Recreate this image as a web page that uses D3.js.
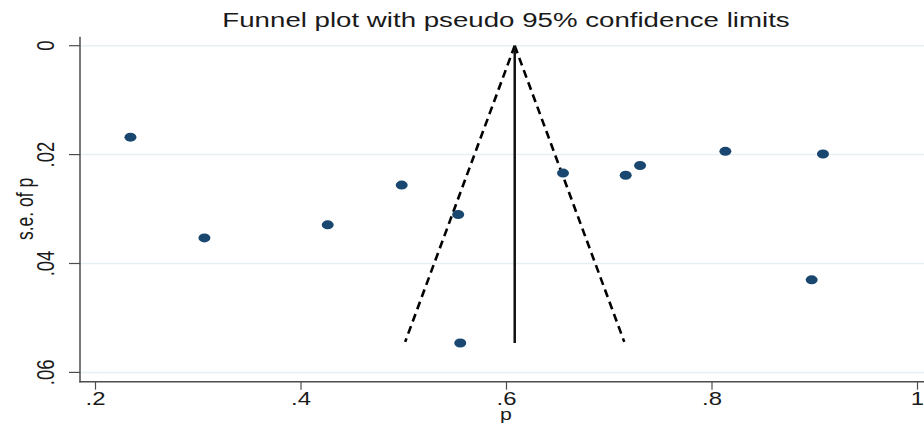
<!DOCTYPE html>
<html>
<head>
<meta charset="utf-8">
<script src="https://cdn.jsdelivr.net/npm/d3@7"></script>
<style>
  html, body { margin: 0; padding: 0; background: #fff; }
  svg { display: block; font-family: "Liberation Sans", Arial, sans-serif; }
</style>
</head>
<body>
<svg id="chart" width="924" height="423"></svg>
<script>
// ---- data ----
const pValues  = [0.234, 0.306, 0.426, 0.498, 0.553, 0.555, 0.655, 0.716, 0.730, 0.813, 0.908, 0.897];
const seValues = [0.0168, 0.0353, 0.0329, 0.0256, 0.0310, 0.0546, 0.0234, 0.0238, 0.0220, 0.0194, 0.0199, 0.0430];
const pooledP = 0.608;
const funnelMaxSe = 0.0544;
const xTicks = [0.2, 0.4, 0.6, 0.8, 1];
const xTickLabels = [".2", ".4", ".6", ".8", "1"];
const yTicks = [0, 0.02, 0.04, 0.06];
const yTickLabels = ["0", ".02", ".04", ".06"];
const titleText = "Funnel plot with pseudo 95% confidence limits";
const xTitle = "p";
const yTitle = "s.e. of p";

// ---- layout ----
const W = 924, H = 423;
const plotLeft = 80, plotRight = 924, plotTop = 36.7, plotBottom = 381.7;
const stretch = 1.33;
const navy = "#1a476f";

const svg = d3.select("#chart");

const x = d3.scaleLinear().domain([0.2, 1]).range([95.5, 917.5]);
const y = d3.scaleLinear().domain([0, 0.06]).range([45.7, 372.4]);

// gridlines
svg.append("g").selectAll("line").data(yTicks).join("line")
  .attr("x1", plotLeft).attr("x2", plotRight)
  .attr("y1", d => y(d)).attr("y2", d => y(d))
  .attr("stroke", "#e6eff1").attr("stroke-width", 1.5);

// axes lines
const axisColor = "#4d4d4d";
svg.append("line").attr("x1", plotLeft).attr("x2", plotLeft)
  .attr("y1", plotTop).attr("y2", plotBottom + 0.7)
  .attr("stroke", axisColor).attr("stroke-width", 1.5);
svg.append("line").attr("x1", plotLeft - 0.7).attr("x2", plotRight)
  .attr("y1", plotBottom).attr("y2", plotBottom)
  .attr("stroke", axisColor).attr("stroke-width", 1.5);

// y ticks
svg.append("g").selectAll("line").data(yTicks).join("line")
  .attr("x1", plotLeft - 11).attr("x2", plotLeft)
  .attr("y1", d => y(d)).attr("y2", d => y(d))
  .attr("stroke", axisColor).attr("stroke-width", 1.2);
// x ticks
svg.append("g").selectAll("line").data(xTicks).join("line")
  .attr("x1", d => x(d)).attr("x2", d => x(d))
  .attr("y1", plotBottom).attr("y2", plotBottom + 8)
  .attr("stroke", axisColor).attr("stroke-width", 1.2);

// stretched text helper
function sText(g, tx, ty, txt, size, rot) {
  const t = g.append("g")
    .attr("transform", `translate(${tx},${ty}) scale(${stretch},1)` + (rot ? ` rotate(${rot})` : ""));
  return t.append("text").attr("text-anchor", "middle")
    .attr("font-size", size).attr("fill", "#1a1a1a").text(txt);
}

const labels = svg.append("g");
xTicks.forEach((d, i) => sText(labels, x(d), 405, xTickLabels[i], 18));
yTicks.forEach((d, i) => sText(labels, 54, y(d), yTickLabels[i], 18.5, -90));
sText(labels, 506, 420, xTitle, 16);
sText(labels, 33, 209, yTitle, 17.5, -90);
sText(labels, 506, 27, titleText, 20.8);

// funnel lines
const funnel = svg.append("g");
funnel.append("line")
  .attr("x1", x(pooledP)).attr("y1", y(0))
  .attr("x2", x(pooledP - 1.96 * funnelMaxSe)).attr("y2", y(funnelMaxSe))
  .attr("stroke", "#000").attr("stroke-width", 2.6).attr("stroke-dasharray", "8,5");
funnel.append("line")
  .attr("x1", x(pooledP)).attr("y1", y(0))
  .attr("x2", x(pooledP + 1.96 * funnelMaxSe)).attr("y2", y(funnelMaxSe))
  .attr("stroke", "#000").attr("stroke-width", 2.6).attr("stroke-dasharray", "8,5");
funnel.append("line")
  .attr("x1", x(pooledP)).attr("y1", y(0))
  .attr("x2", x(pooledP)).attr("y2", y(d3.max(seValues)))
  .attr("stroke", "#111").attr("stroke-width", 2.5);

// points
svg.append("g").selectAll("ellipse").data(pValues.map((p, i) => [p, seValues[i]])).join("ellipse")
  .attr("cx", d => x(d[0])).attr("cy", d => y(d[1]))
  .attr("rx", 6).attr("ry", 4.5)
  .attr("fill", navy);
</script>
</body>
</html>
